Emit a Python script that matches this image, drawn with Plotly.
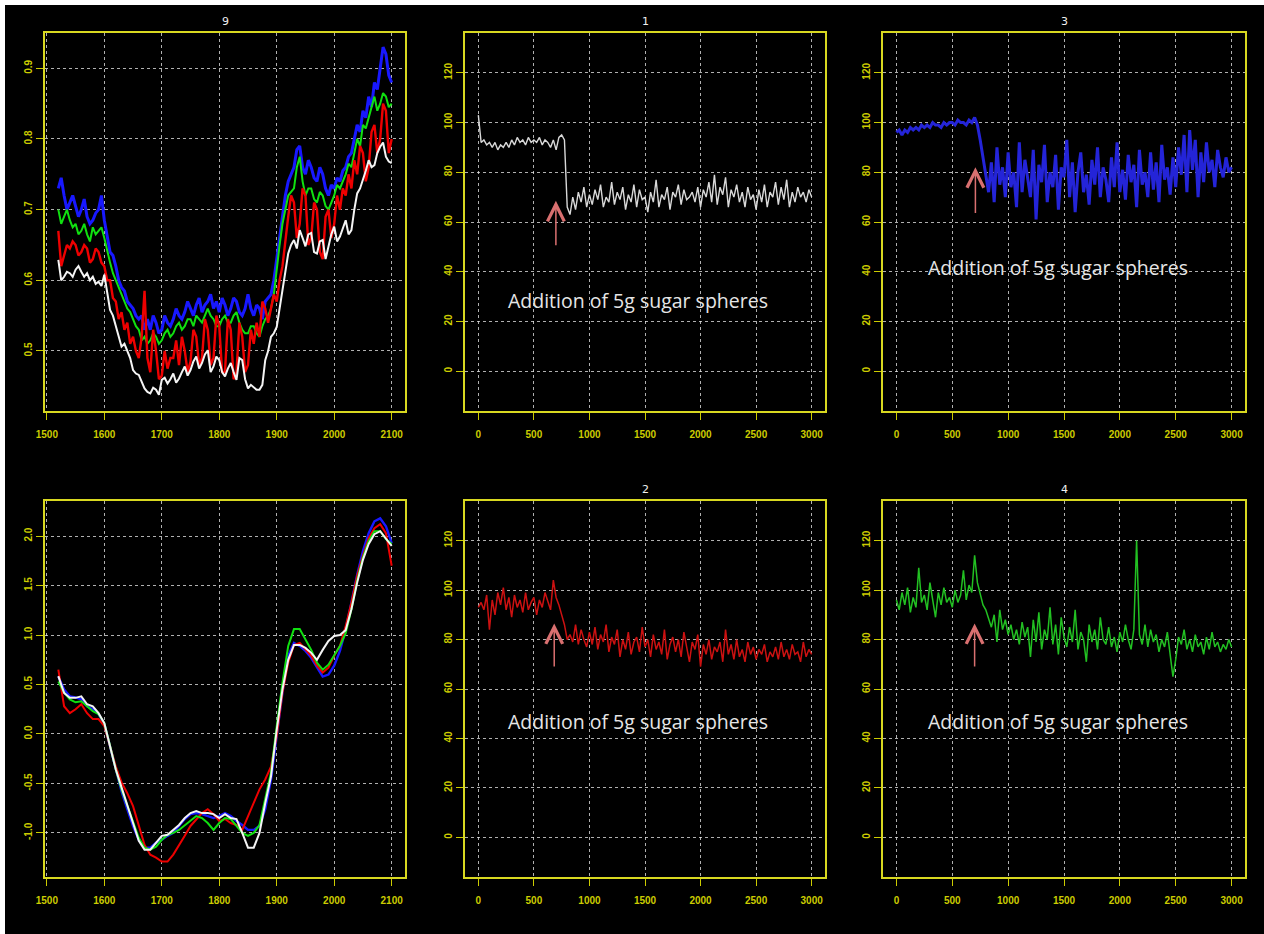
import plotly.graph_objects as go

# ---------------- data ----------------
wavenumber_raw = list(range(1520, 2101, 5))
wavenumber_smooth = list(range(1520, 2101, 10))

spec_blue = [0.73, 0.745, 0.72, 0.70, 0.71, 0.72, 0.705, 0.69, 0.70, 0.715,
             0.69, 0.68, 0.685, 0.695, 0.70, 0.72, 0.685, 0.66, 0.64, 0.635,
             0.62, 0.60, 0.59, 0.585, 0.57, 0.565, 0.56, 0.55, 0.545, 0.55,
             0.53, 0.545, 0.53, 0.55, 0.54, 0.525, 0.53, 0.55, 0.54, 0.535,
             0.545, 0.56, 0.55, 0.545, 0.555, 0.57, 0.56, 0.55, 0.565, 0.575,
             0.555, 0.565, 0.57, 0.58, 0.56, 0.57, 0.555, 0.575, 0.565, 0.55,
             0.56, 0.575, 0.57, 0.555, 0.55, 0.56, 0.58, 0.56, 0.55, 0.565,
             0.56, 0.545, 0.57, 0.575, 0.58, 0.60, 0.63, 0.66, 0.69, 0.72,
             0.74, 0.75, 0.76, 0.785, 0.79, 0.76, 0.75, 0.77, 0.76, 0.745,
             0.74, 0.76, 0.75, 0.73, 0.72, 0.735, 0.73, 0.745, 0.74, 0.755,
             0.76, 0.775, 0.78, 0.80, 0.82, 0.81, 0.84, 0.83, 0.86, 0.845,
             0.88, 0.87, 0.90, 0.93, 0.92, 0.89, 0.88]
spec_green = [0.70, 0.68, 0.69, 0.70, 0.685, 0.675, 0.68, 0.665, 0.67, 0.68,
              0.665, 0.655, 0.675, 0.665, 0.67, 0.675, 0.66, 0.64, 0.625, 0.61,
              0.60, 0.59, 0.58, 0.57, 0.56, 0.555, 0.545, 0.535, 0.53, 0.515,
              0.52, 0.51, 0.515, 0.525, 0.52, 0.51, 0.515, 0.525, 0.53, 0.52,
              0.525, 0.535, 0.54, 0.53, 0.535, 0.545, 0.545, 0.535, 0.55, 0.545,
              0.54, 0.55, 0.56, 0.55, 0.545, 0.535, 0.535, 0.545, 0.55, 0.54,
              0.54, 0.55, 0.555, 0.54, 0.53, 0.525, 0.525, 0.535, 0.535, 0.525,
              0.52, 0.535, 0.545, 0.55, 0.56, 0.58, 0.62, 0.65, 0.68, 0.70,
              0.72, 0.725, 0.73, 0.76, 0.775, 0.74, 0.72, 0.73, 0.73, 0.715,
              0.71, 0.725, 0.72, 0.705, 0.70, 0.71, 0.72, 0.735, 0.73, 0.74,
              0.75, 0.765, 0.76, 0.78, 0.80, 0.79, 0.82, 0.815, 0.83, 0.845,
              0.86, 0.84, 0.85, 0.865, 0.86, 0.845, 0.85]
spec_red = [0.67, 0.62, 0.635, 0.65, 0.645, 0.655, 0.65, 0.635, 0.64, 0.65,
            0.645, 0.625, 0.63, 0.645, 0.64, 0.625, 0.62, 0.60, 0.60, 0.575,
            0.57, 0.545, 0.555, 0.53, 0.54, 0.51, 0.52, 0.50, 0.49, 0.52,
            0.585, 0.49, 0.47, 0.53, 0.50, 0.46, 0.465, 0.50, 0.475, 0.49,
            0.49, 0.515, 0.48, 0.52, 0.50, 0.47, 0.485, 0.53, 0.52, 0.48,
            0.49, 0.545, 0.53, 0.48, 0.49, 0.55, 0.535, 0.47, 0.47, 0.545,
            0.53, 0.46, 0.47, 0.54, 0.52, 0.47, 0.48, 0.53, 0.51, 0.54,
            0.52, 0.57, 0.56, 0.54, 0.56, 0.58, 0.57, 0.60, 0.62, 0.66,
            0.69, 0.72, 0.71, 0.66, 0.68, 0.73, 0.72, 0.65, 0.66, 0.71,
            0.70, 0.64, 0.63, 0.69, 0.70, 0.66, 0.68, 0.72, 0.70, 0.73,
            0.72, 0.75, 0.73, 0.77, 0.75, 0.79, 0.78, 0.74, 0.76, 0.81,
            0.82, 0.78, 0.80, 0.85, 0.84, 0.78, 0.80]
spec_white = [0.629, 0.60, 0.605, 0.612, 0.61, 0.605, 0.615, 0.62, 0.612, 0.605,
              0.61, 0.60, 0.605, 0.595, 0.598, 0.592, 0.608, 0.58, 0.558, 0.55,
              0.534, 0.52, 0.506, 0.51, 0.501, 0.49, 0.473, 0.468, 0.466, 0.455,
              0.447, 0.442, 0.44, 0.448, 0.445, 0.438, 0.459, 0.462, 0.454, 0.46,
              0.468, 0.455, 0.461, 0.47, 0.478, 0.465, 0.473, 0.485, 0.492, 0.475,
              0.483, 0.495, 0.501, 0.47, 0.478, 0.492, 0.487, 0.47, 0.464, 0.475,
              0.483, 0.47, 0.459, 0.49, 0.487, 0.46, 0.447, 0.452, 0.449, 0.445,
              0.445, 0.452, 0.487, 0.50, 0.52, 0.525, 0.534, 0.56, 0.586, 0.615,
              0.638, 0.65, 0.657, 0.645, 0.671, 0.66, 0.648, 0.665, 0.667, 0.64,
              0.638, 0.655, 0.657, 0.63, 0.648, 0.665, 0.676, 0.655, 0.662, 0.675,
              0.685, 0.665, 0.671, 0.70, 0.723, 0.73, 0.742, 0.755, 0.77, 0.76,
              0.763, 0.78, 0.789, 0.795, 0.775, 0.768, 0.766]

deriv_blue = [0.58, 0.45, 0.38, 0.37, 0.35, 0.28, 0.25, 0.20, 0.10, -0.12,
              -0.36, -0.58, -0.76, -0.93, -1.07, -1.15, -1.15, -1.10, -1.07, -1.03,
              -1.00, -0.93, -0.86, -0.81, -0.80, -0.81, -0.83, -0.85, -0.83, -0.80,
              -0.83, -0.88, -0.92, -0.97, -0.97, -0.93, -0.76, -0.46, -0.02, 0.42,
              0.79, 0.92, 0.89, 0.84, 0.77, 0.67, 0.58, 0.60, 0.69, 0.84,
              1.06, 1.33, 1.61, 1.85, 2.03, 2.15, 2.18, 2.10, 1.93]
deriv_red = [0.65, 0.28, 0.21, 0.25, 0.30, 0.21, 0.15, 0.15, 0.08, -0.12,
             -0.33, -0.49, -0.60, -0.73, -0.93, -1.12, -1.22, -1.25, -1.29, -1.29,
             -1.22, -1.13, -1.03, -0.93, -0.87, -0.80, -0.76, -0.81, -0.88, -0.86,
             -0.90, -0.92, -0.97, -0.83, -0.70, -0.56, -0.46, -0.33, -0.02, 0.42,
             0.72, 0.90, 0.92, 0.85, 0.79, 0.69, 0.62, 0.67, 0.79, 0.89,
             1.09, 1.33, 1.60, 1.80, 1.98, 2.08, 2.12, 2.03, 1.70]
deriv_green = [0.53, 0.42, 0.35, 0.32, 0.33, 0.28, 0.23, 0.20, 0.11, -0.12,
               -0.36, -0.56, -0.73, -0.90, -1.05, -1.15, -1.17, -1.14, -1.07, -1.02,
               -1.00, -0.97, -0.92, -0.88, -0.83, -0.85, -0.90, -0.97, -0.90, -0.85,
               -0.86, -0.93, -1.00, -1.03, -1.00, -0.92, -0.67, -0.39, 0.08, 0.52,
               0.89, 1.06, 1.06, 0.96, 0.85, 0.72, 0.65, 0.70, 0.79, 0.89,
               1.02, 1.26, 1.55, 1.78, 1.95, 2.05, 2.05, 1.97, 1.92]
deriv_white = [0.585, 0.415, 0.365, 0.365, 0.38, 0.30, 0.28, 0.21, 0.11, -0.12,
               -0.36, -0.54, -0.73, -0.90, -1.08, -1.17, -1.17, -1.10, -1.03, -1.02,
               -0.97, -0.92, -0.85, -0.80, -0.78, -0.80, -0.80, -0.81, -0.85, -0.81,
               -0.85, -0.86, -1.00, -1.15, -1.15, -1.00, -0.70, -0.43, 0.04, 0.45,
               0.75, 0.90, 0.90, 0.87, 0.82, 0.75, 0.85, 0.94, 0.99, 1.00,
               1.05, 1.26, 1.53, 1.76, 1.92, 2.02, 2.05, 1.97, 1.90]

time_step = 25
sensor1 = [103, 92, 93, 91, 92, 90, 92, 89, 91, 90,
           92, 90, 93, 91, 94, 92, 93, 91, 94, 92,
           93, 92, 94, 91, 93, 92, 90, 93, 89, 94,
           95, 93, 66, 63, 70, 65, 72, 68, 74, 66,
           71, 67, 73, 69, 75, 66, 70, 68, 76, 67,
           72, 69, 74, 65, 71, 68, 75, 66, 73, 69,
           70, 64, 72, 68, 77, 66, 71, 69, 74, 65,
           72, 70, 75, 67, 73, 69, 70, 72, 68, 74,
           66, 73, 70, 76, 68, 79, 67, 74, 71, 78,
           66, 73, 70, 75, 68, 72, 66, 74, 69, 71,
           65, 73, 68, 75, 66, 72, 70, 76, 67, 74,
           69, 77, 66, 72, 68, 74, 70, 72, 68, 73,
           70]
sensor3 = [96, 97, 95, 97, 96, 98, 97, 98, 97, 99,
           98, 99, 98, 100, 99, 99, 98, 100, 99, 100,
           100, 99, 101, 100, 100, 99, 101, 100, 102, 99,
           93, 86, 78, 72, 84, 68, 90, 75, 82, 70,
           88, 74, 80, 66, 92, 72, 85, 78, 70, 89,
           61, 83, 76, 91, 68, 80, 74, 87, 65, 82,
           78, 93, 70, 84, 64, 80, 88, 72, 79, 67,
           85, 75, 90, 70, 82, 77, 68, 86, 74, 92,
           72, 81, 69, 87, 76, 83, 66, 89, 75, 80,
           70, 88, 73, 84, 68, 91, 77, 82, 71, 86,
           74, 90, 79, 95, 72, 97, 81, 93, 70, 88,
           76, 92, 80, 85, 74, 89, 82, 78, 86, 80,
           82]
sensor2 = [93, 95, 92, 98, 84, 96, 90, 99, 94, 101,
           92, 97, 89, 98, 93, 96, 91, 99, 92, 95,
           97, 90, 96, 93, 99, 95, 92, 104, 97, 94,
           90, 86, 80, 82, 79, 86, 78, 84, 80, 77,
           83, 78, 85, 76, 82, 79, 86, 75, 81, 78,
           84, 73, 80, 76, 83, 74, 79, 81, 75, 85,
           77, 80, 73, 82, 76, 79, 74, 84, 72, 78,
           81, 75, 80, 73, 83, 77, 71, 79, 76, 82,
           69, 78, 74, 80, 72, 77, 75, 79, 71, 84,
           74, 78, 72, 80, 73, 76, 71, 79, 74, 77,
           72, 76, 74, 78, 71, 75, 73, 77, 72, 79,
           73, 76, 72, 78, 74, 75, 71, 79, 73, 76,
           74]
sensor4 = [96, 92, 99, 94, 101, 91, 97, 93, 109, 95,
           98, 92, 103, 96, 89, 99, 94, 101, 95, 97,
           93, 100, 95, 98, 108, 96, 102, 99, 114, 103,
           98, 94, 92, 88, 85, 90, 79, 92, 84, 88,
           82, 86, 80, 84, 78, 87, 81, 85, 73, 88,
           79, 91, 76, 84, 80, 93, 78, 86, 74, 89,
           81, 77, 85, 79, 92, 76, 83, 80, 71, 86,
           79, 84, 76, 89, 80, 78, 85, 77, 81, 75,
           83, 79, 86, 80, 76, 84, 120, 82, 78, 86,
           77, 84, 79, 82, 75, 80, 77, 83, 74, 65,
           72, 81, 78, 84, 76, 80, 75, 82, 77, 79,
           74, 81, 76, 83, 77, 79, 75, 78, 76, 80,
           77]

panel_titles = ["9", "1", "3", "", "2", "4"]
spec_ticks = [1500, 1600, 1700, 1800, 1900, 2000, 2100]
spec_yticks = [0.5, 0.6, 0.7, 0.8, 0.9]
deriv_yticks = [-1.0, -0.5, 0.0, 0.5, 1.0, 1.5, 2.0]
deriv_yticklabels = ["-1.0", "-0.5", "0.0", "0.5", "1.0", "1.5", "2.0"]
time_ticks = [0, 500, 1000, 1500, 2000, 2500, 3000]
sensor_yticks = [0, 20, 40, 60, 80, 100, 120]
note_text = "Addition of 5g sugar spheres"
# arrow (x, tip y, tail y) and note (x, y) per sensor panel
arrows = {"2": (698, 68.5, 50), "3": (707, 82, 63), "5": (683, 86.5, 68.5), "6": (700, 86.5, 68.5)}
notes = {"2": (1437, 28.4), "3": (1450, 41.7), "5": (1435, 47), "6": (1450, 47)}

# ---------------- figure ----------------
W, H = 1264, 934
YEL = "#cccc00"
BOX = "#d8d820"
GRID = "rgba(235,235,235,0.75)"

def px_x(a, b):
    return [a / W, b / W]

def px_y(top, bottom):
    return [1 - bottom / H, 1 - top / H]

xdom = [px_x(45, 405), px_x(465, 825), px_x(883, 1245)]
ydom = [px_y(33, 411), px_y(501, 877)]

fig = go.Figure()

def add(xs, ys, color, ax, width=1.6):
    fig.add_trace(go.Scatter(x=xs, y=ys, mode="lines",
                             line=dict(color=color, width=width),
                             xaxis="x" + ax, yaxis="y" + ax,
                             showlegend=False, hoverinfo="skip"))

# top-left spectra
add(wavenumber_raw, spec_blue, "#1818ff", "", 3.0)
add(wavenumber_raw, spec_green, "#10e010", "", 2.0)
add(wavenumber_raw, spec_red, "#ee0000", "", 2.4)
add(wavenumber_raw, spec_white, "#f4f4f4", "", 2.0)
# bottom-left derivatives
add(wavenumber_smooth, deriv_blue, "#1818ff", "4", 2.4)
add(wavenumber_smooth, deriv_red, "#ee0000", "4", 2.0)
add(wavenumber_smooth, deriv_green, "#10e010", "4", 2.0)
add(wavenumber_smooth, deriv_white, "#f4f4f4", "4", 2.0)

t = [i * time_step for i in range(len(sensor1))]
add(t, sensor1, "#d8d8d8", "2", 1.4)
add(t, sensor3, "#2424d8", "3", 3.0)
add(t, sensor2, "#cc1111", "5", 1.5)
add(t, sensor4, "#22c022", "6", 1.5)

layout = dict(width=W, height=H, paper_bgcolor="white", plot_bgcolor="black",
              margin=dict(l=0, r=0, t=0, b=0, autoexpand=False), showlegend=False,
              template="none")

axis_common = dict(showline=True, mirror=True, linecolor=BOX, linewidth=1.5,
                   ticks="outside", ticklen=7, tickcolor=YEL, tickwidth=1,
                   tickfont=dict(color=YEL, size=10, family="Liberation Sans", weight="bold"),
                   showgrid=True, gridcolor=GRID, griddash="dot", gridwidth=1,
                   zeroline=False, automargin=False)

panel_cfg = {
    "": (0, 0, [1496.8, 2123.2], spec_ticks, [0.415, 0.95], spec_yticks),
    "2": (1, 0, [-120, 3120], time_ticks, [-16, 136], sensor_yticks),
    "3": (2, 0, [-120, 3120], time_ticks, [-16, 136], sensor_yticks),
    "4": (0, 1, [1496.8, 2123.2], spec_ticks, [-1.446, 2.355], deriv_yticks),
    "5": (1, 1, [-120, 3120], time_ticks, [-16, 136], sensor_yticks),
    "6": (2, 1, [-120, 3120], time_ticks, [-16, 136], sensor_yticks),
}
for key, (col, row, xr, xt, yr, yt) in panel_cfg.items():
    xa = dict(axis_common, domain=xdom[col], range=xr, tickvals=xt,
              anchor="y" + key, ticklabelstandoff=6)
    ya = dict(axis_common, domain=ydom[row], range=yr, tickvals=yt,
              anchor="x" + key, tickangle=-90)
    if key == "4":
        ya["ticktext"] = deriv_yticklabels
    layout["xaxis" + key] = xa
    layout["yaxis" + key] = ya

# black backdrop with a thin white strip at left and top, as in the reference
layout["shapes"] = [dict(type="rect", xref="paper", yref="paper",
                         x0=5 / W, x1=1, y0=0, y1=1 - 5 / H,
                         fillcolor="black", line=dict(width=0), layer="below")]

annotations = []
for key, title in zip(["", "2", "3", "4", "5", "6"], panel_titles):
    col, row = panel_cfg[key][0], panel_cfg[key][1]
    if title:
        annotations.append(dict(text=title, xref="paper", yref="paper",
                                x=sum(xdom[col]) / 2, y=ydom[row][1] + 12 / H,
                                showarrow=False, xanchor="center", yanchor="middle",
                                font=dict(color="#f0f0f0", size=11, family="DejaVu Sans")))
for key, (ax_x, tip, tail) in arrows.items():
    annotations.append(dict(x=ax_x, y=tip, ax=ax_x, ay=tail, xref="x" + key, yref="y" + key,
                            axref="x" + key, ayref="y" + key, text="", showarrow=True,
                            arrowhead=5, arrowsize=2.2, arrowwidth=1.5, arrowcolor="#d97070"))
for key, (nx, ny) in notes.items():
    annotations.append(dict(x=nx, y=ny, xref="x" + key, yref="y" + key, text=note_text,
                            showarrow=False, xanchor="center", yanchor="middle",
                            font=dict(color="#e6e6e6", size=19.5, family="Open Sans")))
layout["annotations"] = annotations

fig.update_layout(**layout)
fig.write_html("out.html", config={"displayModeBar": False},
               post_script="document.body.style.margin='0';document.body.style.overflow='hidden';")
